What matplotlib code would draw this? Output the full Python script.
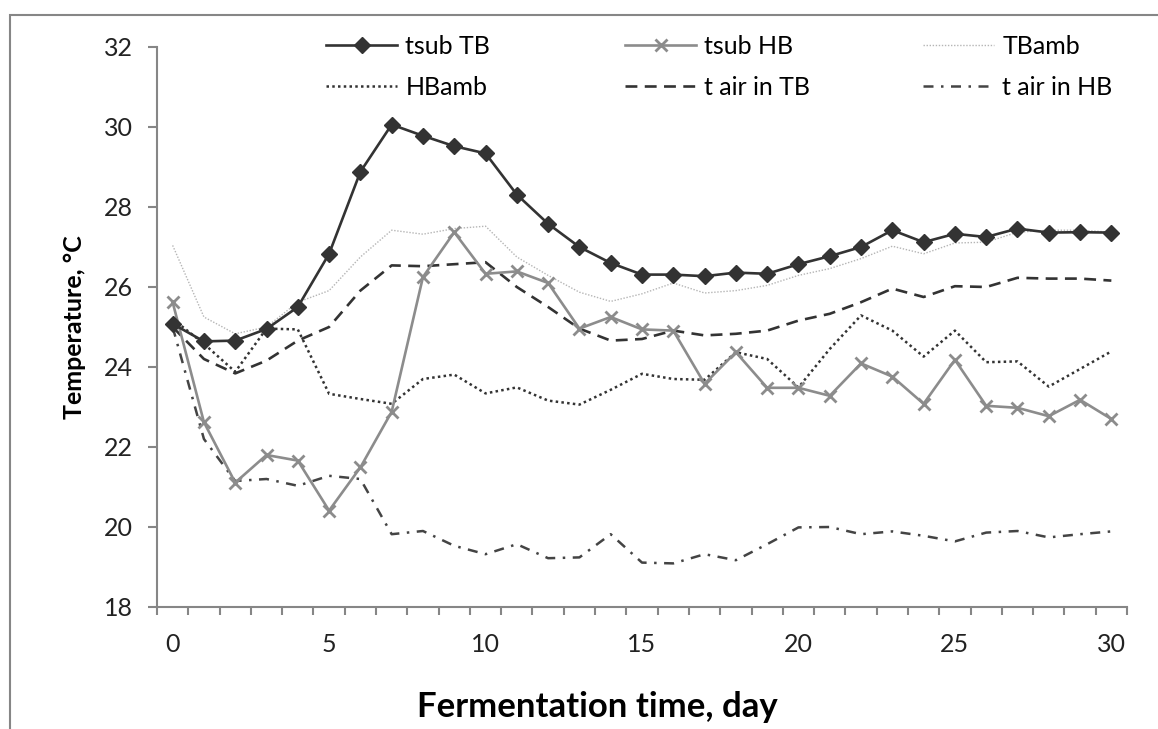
import numpy as np
import matplotlib
matplotlib.use("Agg")
import matplotlib.pyplot as plt
from matplotlib.patches import Rectangle

plt.rcParams['font.family'] = ['Lato', 'DejaVu Sans']

days = list(range(31))

tsub_tb = [25.08, 24.64, 24.66, 24.95, 25.50, 26.83, 28.88, 30.06, 29.78, 29.52, 29.34,
           28.31, 27.58, 27.00, 26.60, 26.31, 26.31, 26.27, 26.36, 26.33, 26.57,
           26.77, 27.00, 27.42, 27.12, 27.33, 27.25, 27.46, 27.36, 27.37, 27.36]
tsub_hb = [25.62, 22.62, 21.11, 21.80, 21.66, 20.41, 21.49, 22.88, 26.25, 27.37, 26.33,
           26.39, 26.10, 24.96, 25.25, 24.94, 24.91, 23.58, 24.37, 23.48, 23.48,
           23.28, 24.09, 23.76, 23.08, 24.18, 23.03, 22.98, 22.77, 23.18, 22.70]
tb_amb = [27.04, 25.25, 24.83, 25.00, 25.62, 25.91, 26.75, 27.42, 27.32, 27.46, 27.52,
          26.75, 26.29, 25.87, 25.64, 25.83, 26.10, 25.85, 25.91, 26.04, 26.29,
          26.46, 26.71, 27.02, 26.83, 27.10, 27.12, 27.37, 27.42, 27.42, 27.37]
hb_amb = [25.20, 24.58, 23.88, 24.96, 24.94, 23.33, 23.20, 23.08, 23.70, 23.81, 23.34,
          23.49, 23.16, 23.06, 23.43, 23.83, 23.70, 23.68, 24.37, 24.20, 23.49,
          24.45, 25.29, 24.91, 24.26, 24.91, 24.12, 24.14, 23.51, 23.95, 24.39]
air_tb = [25.00, 24.20, 23.84, 24.16, 24.66, 25.00, 25.91, 26.54, 26.52, 26.57, 26.62,
          26.00, 25.50, 24.96, 24.66, 24.70, 24.91, 24.79, 24.83, 24.91, 25.16,
          25.33, 25.62, 25.96, 25.75, 26.02, 26.00, 26.23, 26.21, 26.21, 26.16]
air_hb = [25.00, 22.20, 21.15, 21.20, 21.03, 21.28, 21.20, 19.82, 19.90, 19.53, 19.32,
          19.57, 19.22, 19.24, 19.82, 19.11, 19.09, 19.32, 19.17, 19.57, 19.99,
          20.00, 19.82, 19.89, 19.78, 19.64, 19.86, 19.90, 19.74, 19.82, 19.89]

W, H = 1158, 729
fig = plt.figure(figsize=(W / 100, H / 100), dpi=100)
ax = fig.add_axes([157 / W, 1 - 607 / H, (1127 - 157) / W, (607 - 47) / H])

axis_grey = '#868686'
dark = '#333333'

l_tbamb, = ax.plot(days, tb_amb, color='#b5b5b5', lw=1.0, ls=(0, (1, 1.2)), label='TBamb', zorder=2)
l_hbamb, = ax.plot(days, hb_amb, color=dark, lw=1.8, ls=(0, (1, 1.3)), label='HBamb', zorder=3)
l_airtb, = ax.plot(days, air_tb, color=dark, lw=1.9, ls=(0, (4.5, 2.8)), label='t air in TB', zorder=3)
l_airhb, = ax.plot(days, air_hb, color='#444444', lw=1.8, ls=(0, (4, 3, 1, 3)), label='t air in HB', zorder=3)
l_hb, = ax.plot(days, tsub_hb, color='#8c8c8c', lw=1.9, marker='x', ms=9, mew=2,
                label='tsub HB', zorder=4)
l_tb, = ax.plot(days, tsub_tb, color=dark, lw=1.9, marker='D', ms=8,
                label='tsub TB', zorder=5)

ax.set_xlim(-0.5, 30.5)
ax.set_ylim(18, 32)
ax.set_yticks(np.arange(18, 33, 2))
ax.set_xticks(np.arange(0, 31, 5))
ax.set_xticks(np.arange(-0.5, 31, 1), minor=True)

for s in ['top', 'right']:
    ax.spines[s].set_visible(False)
for s in ['left', 'bottom']:
    ax.spines[s].set_color(axis_grey)
    ax.spines[s].set_linewidth(1.5)

ax.tick_params(axis='y', direction='out', length=6.5, width=1.5, color=axis_grey,
               labelsize=18, pad=11, labelcolor='#222222')
ax.tick_params(axis='x', which='major', length=0, pad=19, labelsize=18, labelcolor='#222222')
ax.tick_params(axis='x', which='minor', direction='out', length=6, width=1.5, color=axis_grey)

ax.set_ylabel('Temperature, °C', fontsize=18, fontweight='bold', labelpad=13)
fig.text(597 / W, 1 - 707 / H, 'Fermentation time, day', fontsize=25, fontweight='bold',
         ha='center', va='center')

# legend: three columns, each one a small legend so the columns sit where Excel put them
columns = [(l_tb, l_hbamb, 326), (l_hb, l_airtb, 625), (l_tbamb, l_airhb, 923)]
for i, (h1, h2, xpix) in enumerate(columns):
    leg = ax.legend(handles=[h1, h2], loc='upper left', bbox_to_anchor=(xpix / W, 1 - 35 / H),
                    bbox_transform=fig.transFigure, frameon=False, fontsize=18,
                    borderpad=0, borderaxespad=0, handlelength=2.85, handletextpad=0.32,
                    labelspacing=0.72)
    if i < len(columns) - 1:
        ax.add_artist(leg)

fig.add_artist(Rectangle((10 / W, -0.1), 1.2, 1.1 - 15 / H, transform=fig.transFigure,
                         fill=False, ec=axis_grey, lw=1.5))

fig.savefig('out.png', dpi=100)
